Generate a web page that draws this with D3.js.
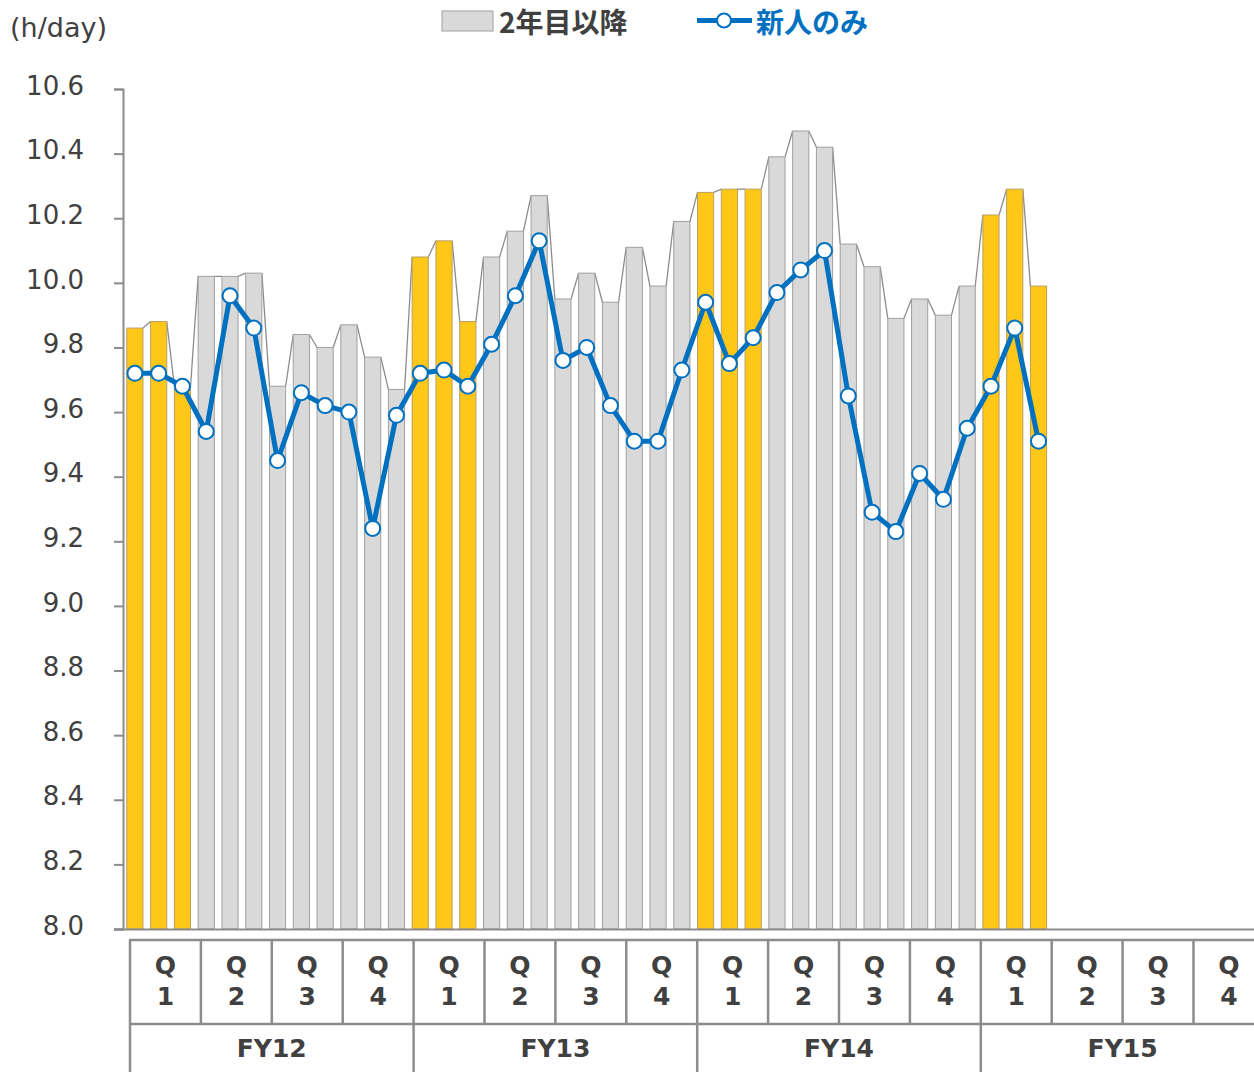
<!DOCTYPE html>
<html>
<head>
<meta charset="utf-8">
<script src="https://cdn.jsdelivr.net/npm/d3@7"></script>
<style>
  body { margin: 0; background: #fff; }
  svg { display: block; }
</style>
</head>
<body>
<svg width="1254" height="1072"></svg>
<script>
(function() {
  // 年度・四半期
  var years = ["FY12", "FY13", "FY14", "FY15"];
  var quarters = ["1", "2", "3", "4"];

  // 2年目以降 (棒) — 月次
  var seniorValues = [
    9.86, 9.88, 9.68, 10.02, 10.02, 10.03, 9.68, 9.84, 9.80, 9.87, 9.77, 9.67,
    10.08, 10.13, 9.88, 10.08, 10.16, 10.27, 9.95, 10.03, 9.94, 10.11, 9.99, 10.19,
    10.28, 10.29, 10.29, 10.39, 10.47, 10.42, 10.12, 10.05, 9.89, 9.95, 9.90, 9.99,
    10.21, 10.29, 9.99
  ];

  // 新人のみ (折れ線) — 月次
  var freshValues = [
    9.72, 9.72, 9.68, 9.54, 9.96, 9.86, 9.45, 9.66, 9.62, 9.60, 9.24, 9.59,
    9.72, 9.73, 9.68, 9.81, 9.96, 10.13, 9.76, 9.80, 9.62, 9.51, 9.51, 9.73,
    9.94, 9.75, 9.83, 9.97, 10.04, 10.10, 9.65, 9.29, 9.23, 9.41, 9.33, 9.55,
    9.68, 9.86, 9.51
  ];

  var yTicks = [8.0, 8.2, 8.4, 8.6, 8.8, 9.0, 9.2, 9.4, 9.6, 9.8, 10.0, 10.2, 10.4, 10.6];

  var svg = d3.select("svg");
  var latin = "'DejaVu Sans', Verdana, sans-serif";
  var jp = "'Noto Sans CJK JP', 'DejaVu Sans', sans-serif";

  var months = d3.range(48);
  var x = d3.scaleBand().domain(months).range([123, 123 + 48 * 23.78]).paddingInner(0.32).paddingOuter(0.16);
  var y = d3.scaleLinear().domain([8.0, 10.6]).range([929, 89]);

  // 棒
  var bars = seniorValues.map(function(v, i) { return { i: i, v: v }; });

  // 系列線 (棒の上端をつなぐ)
  var seriesLine = svg.append("g");
  for (var i = 0; i < bars.length - 1; i++) {
    seriesLine.append("line")
      .attr("x1", x(i) + x.bandwidth()).attr("y1", y(bars[i].v))
      .attr("x2", x(i + 1)).attr("y2", y(bars[i + 1].v))
      .attr("stroke", "#8c8c8c").attr("stroke-width", 1.3);
  }

  svg.append("g").selectAll("rect").data(bars).enter().append("rect")
    .attr("x", function(d) { return x(d.i); })
    .attr("y", function(d) { return y(d.v); })
    .attr("width", x.bandwidth())
    .attr("height", function(d) { return y(8.0) - y(d.v); })
    .attr("fill", function(d) { return d.i % 12 < 3 ? "#FFC819" : "#D9D9D9"; })
    .attr("stroke", function(d) { return d.i % 12 < 3 ? "#B8A060" : "#A0A0A0"; })
    .attr("stroke-width", 1);

  // Y軸
  var yAxis = d3.axisLeft(y).tickValues(yTicks).tickSize(9).tickPadding(30)
    .tickFormat(d3.format(".1f"));
  var ya = svg.append("g").attr("transform", "translate(123,0)").call(yAxis);
  ya.select(".domain").attr("stroke", "#8c8c8c").attr("stroke-width", 2);
  ya.selectAll(".tick line").attr("stroke", "#8c8c8c").attr("stroke-width", 2);
  ya.selectAll(".tick text").attr("font-family", latin).attr("font-size", 26)
    .attr("fill", "#404040").attr("dy", "0.2em");

  // 基準線
  svg.append("line").attr("x1", 114).attr("x2", 1254).attr("y1", 929.5).attr("y2", 929.5)
    .attr("stroke", "#8c8c8c").attr("stroke-width", 2);

  // 折れ線
  var fresh = freshValues.map(function(v, i) { return { i: i, v: v }; });
  var line = d3.line()
    .x(function(d) { return x(d.i) + x.bandwidth() / 2; })
    .y(function(d) { return y(d.v); });
  svg.append("path").datum(fresh).attr("d", line)
    .attr("fill", "none").attr("stroke", "#0070C0").attr("stroke-width", 5)
    .attr("stroke-linejoin", "round");
  svg.append("g").selectAll("circle").data(fresh).enter().append("circle")
    .attr("cx", function(d) { return x(d.i) + x.bandwidth() / 2; })
    .attr("cy", function(d) { return y(d.v); })
    .attr("r", 7.5)
    .attr("fill", "#fff").attr("stroke", "#0070C0").attr("stroke-width", 2);

  // 単位
  svg.append("text").attr("x", 10).attr("y", 37).text("(h/day)")
    .attr("font-family", latin).attr("font-size", 27).attr("fill", "#404040");

  // 凡例
  svg.append("rect").attr("x", 442).attr("y", 11).attr("width", 51).attr("height", 20)
    .attr("fill", "#D9D9D9").attr("stroke", "#A0A0A0").attr("stroke-width", 1);
  svg.append("text").attr("x", 499).attr("y", 33).text("2年目以降")
    .attr("font-family", jp).attr("font-weight", "bold").attr("font-size", 28).attr("fill", "#404040");
  svg.append("line").attr("x1", 697).attr("x2", 752).attr("y1", 20.5).attr("y2", 20.5)
    .attr("stroke", "#0070C0").attr("stroke-width", 5);
  svg.append("circle").attr("cx", 724).attr("cy", 20.5).attr("r", 7)
    .attr("fill", "#fff").attr("stroke", "#0070C0").attr("stroke-width", 2);
  svg.append("text").attr("x", 756).attr("y", 33).text("新人のみ")
    .attr("font-family", jp).attr("font-weight", "bold").attr("font-size", 28).attr("fill", "#0070C0");

  // 区分表
  var qKeys = [];
  years.forEach(function(fy) { quarters.forEach(function(q) { qKeys.push(fy + "-" + q); }); });
  var xq = d3.scaleBand().domain(qKeys).range([130, 130 + 16 * 70.9]);
  var xy = d3.scaleBand().domain(years).range([130, 130 + 16 * 70.9]);
  var table = svg.append("g");
  var gridColor = "#8c8c8c";

  table.append("line").attr("x1", 129).attr("x2", 1254).attr("y1", 940).attr("y2", 940)
    .attr("stroke", gridColor).attr("stroke-width", 2.5);
  table.append("line").attr("x1", 129).attr("x2", 1254).attr("y1", 1024).attr("y2", 1024)
    .attr("stroke", gridColor).attr("stroke-width", 2.5);

  qKeys.forEach(function(k) {
    table.append("line").attr("x1", xq(k)).attr("x2", xq(k)).attr("y1", 940).attr("y2", 1024)
      .attr("stroke", gridColor).attr("stroke-width", 2.5);
  });
  years.forEach(function(fy) {
    table.append("line").attr("x1", xy(fy)).attr("x2", xy(fy)).attr("y1", 1024).attr("y2", 1072)
      .attr("stroke", gridColor).attr("stroke-width", 2.5);
  });

  table.selectAll("text.q").data(qKeys).enter().append("text").attr("class", "q")
    .attr("x", function(k) { return xq(k) + xq.bandwidth() / 2; })
    .attr("y", 974)
    .attr("text-anchor", "middle")
    .attr("font-family", latin).attr("font-weight", "bold").attr("font-size", 25).attr("fill", "#404040")
    .text("Q");
  table.selectAll("text.qn").data(qKeys).enter().append("text").attr("class", "qn")
    .attr("x", function(k) { return xq(k) + xq.bandwidth() / 2; })
    .attr("y", 1005)
    .attr("text-anchor", "middle")
    .attr("font-family", latin).attr("font-weight", "bold").attr("font-size", 25).attr("fill", "#404040")
    .text(function(k) { return k.split("-")[1]; });
  table.selectAll("text.fy").data(years).enter().append("text").attr("class", "fy")
    .attr("x", function(fy) { return xy(fy) + xy.bandwidth() / 2; })
    .attr("y", 1057)
    .attr("text-anchor", "middle")
    .attr("font-family", latin).attr("font-weight", "bold").attr("font-size", 25).attr("fill", "#404040")
    .text(function(fy) { return fy; });
})();
</script>
</body>
</html>
